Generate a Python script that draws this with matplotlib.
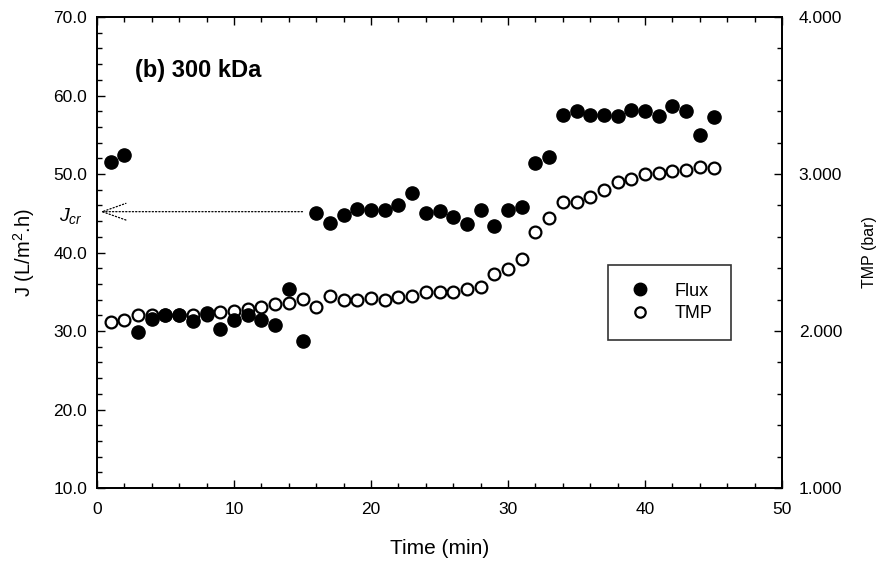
import matplotlib
matplotlib.use("Agg")
import matplotlib.pyplot as plt
from matplotlib.ticker import MultipleLocator, FormatStrFormatter
from matplotlib.lines import Line2D

plt.rcParams['font.family'] = ['Liberation Sans', 'DejaVu Sans']
plt.rcParams['mathtext.fontset'] = 'custom'
plt.rcParams['mathtext.rm'] = 'Liberation Sans'
plt.rcParams['mathtext.it'] = 'Liberation Sans:italic'

# time (min)
time_min = list(range(1, 46))

# permeate flux J (L/m2.h), filled circles
flux = [51.5, 52.4, 29.9, 31.5, 32.0, 32.0, 31.3, 32.3, 30.3, 31.4,
        32.0, 31.4, 30.8, 35.3, 28.7, 45.0, 43.8, 44.8, 45.5, 45.4,
        45.4, 46.1, 47.6, 45.0, 45.3, 44.5, 43.6, 45.4, 43.4, 45.4,
        45.8, 51.4, 52.2, 57.5, 58.0, 57.5, 57.5, 57.4, 58.2, 58.0,
        57.4, 58.7, 58.0, 55.0, 57.3]

# transmembrane pressure (bar), open circles
tmp = [2.06, 2.07, 2.10, 2.10, 2.10, 2.10, 2.10, 2.10, 2.12, 2.13,
       2.14, 2.155, 2.17, 2.18, 2.205, 2.155, 2.22, 2.20, 2.20, 2.21,
       2.20, 2.215, 2.225, 2.25, 2.25, 2.247, 2.266, 2.282, 2.363, 2.397,
       2.458, 2.629, 2.718, 2.824, 2.824, 2.855, 2.898, 2.947, 2.968, 3.000,
       3.005, 3.019, 3.025, 3.043, 3.036]

j_cr = 45.2

fig = plt.figure(figsize=(8.77, 5.61), dpi=100)
ax = fig.add_axes([0.1106, 0.1301, 0.7811, 0.8396])
ax2 = ax.twinx()

ax.plot(time_min, flux, 'o', color='black', markersize=9.5, zorder=3)
ax2.plot(time_min, tmp, 'o', markerfacecolor='white', markeredgecolor='black',
         markeredgewidth=1.6, markersize=8.5, zorder=2)
ax.set_zorder(ax2.get_zorder() + 1)
ax.patch.set_visible(False)

ax.set_xlim(0, 50)
ax.set_ylim(10, 70)
ax2.set_ylim(1, 4)

ax.xaxis.set_major_locator(MultipleLocator(10))
ax.xaxis.set_minor_locator(MultipleLocator(2))
ax.yaxis.set_major_locator(MultipleLocator(10))
ax.yaxis.set_minor_locator(MultipleLocator(2))
ax.yaxis.set_major_formatter(FormatStrFormatter('%.1f'))
ax2.yaxis.set_major_locator(MultipleLocator(1))
ax2.yaxis.set_minor_locator(MultipleLocator(0.2))
ax2.yaxis.set_major_formatter(FormatStrFormatter('%.3f'))

ax.tick_params(which='both', direction='in', top=True, labelsize=12.5, pad=7)
ax.tick_params(axis='x', pad=10)
ax.tick_params(which='major', length=6, width=1)
ax.tick_params(which='minor', length=3.5, width=1)
ax2.tick_params(which='both', direction='in', labelsize=12.5, pad=12)
ax2.tick_params(which='major', length=6, width=1)
ax2.tick_params(which='minor', length=3.5, width=1)
for a in (ax, ax2):
    for s in a.spines.values():
        s.set_linewidth(1.3)

ax.set_xlabel('Time (min)', fontsize=15, labelpad=16)
ax.set_ylabel(r'J (L/m$^\mathregular{2}$.h)', fontsize=14.5, labelpad=12)
ax2.set_ylabel('TMP (bar)', fontsize=11.5, labelpad=14)

ax.text(2.8, 63.2, '(b) 300 kDa', fontsize=17, fontweight='bold', va='center')

# critical flux marker
ax.annotate('', xy=(0.25, j_cr), xytext=(15.0, j_cr),
            arrowprops=dict(arrowstyle='->,head_length=1.7,head_width=0.6',
                            linestyle=':', linewidth=0.9, color='black',
                            mutation_scale=10, shrinkA=0, shrinkB=0))
ax.text(-1.9, j_cr - 0.6, r'$J_{cr}$', fontsize=14, ha='center', va='center')

handles = [Line2D([], [], marker='o', linestyle='none', color='black', markersize=9),
           Line2D([], [], marker='o', linestyle='none', markerfacecolor='white',
                  markeredgecolor='black', markeredgewidth=1.6, markersize=7.5)]
leg = ax.legend(handles, ['Flux', 'TMP'], loc='upper left',
                bbox_to_anchor=(0.746, 0.474), fontsize=13, frameon=True,
                fancybox=False, edgecolor='black', handlelength=1.5,
                handletextpad=1.2, borderpad=1.0, labelspacing=0.3,
                borderaxespad=0)
leg.get_frame().set_linewidth(1.2)

fig.savefig('out.png', dpi=100)
